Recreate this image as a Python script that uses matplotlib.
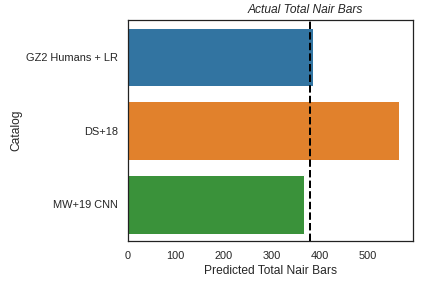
import matplotlib
matplotlib.use("Agg")
import matplotlib.pyplot as plt
import seaborn as sns
import pandas as pd

catalogs = ["GZ2 Humans + LR", "DS+18", "MW+19 CNN"]
predicted = [386, 567, 368]
actual = 380

sns.set_theme(style="white")
plt.rcParams['font.family'] = ['Liberation Sans', 'DejaVu Sans']

df = pd.DataFrame({"Catalog": catalogs, "Predicted Total Nair Bars": predicted})
fig, ax = plt.subplots(figsize=(6, 4), dpi=72)
sns.barplot(data=df, y="Catalog", x="Predicted Total Nair Bars", hue="Catalog",
            palette=sns.color_palette("tab10")[:3], ax=ax, legend=False)
ax.axvline(actual, color="black", linestyle="--", linewidth=2)
ax.text(370, -0.56, "Actual Total Nair Bars", ha="center", va="bottom", style="italic", fontsize=12)
for s in ax.spines.values():
    s.set_color("#222222")
fig.subplots_adjust(left=0.296, right=0.956, top=0.93, bottom=0.163)
fig.savefig("out.png", dpi=72)
